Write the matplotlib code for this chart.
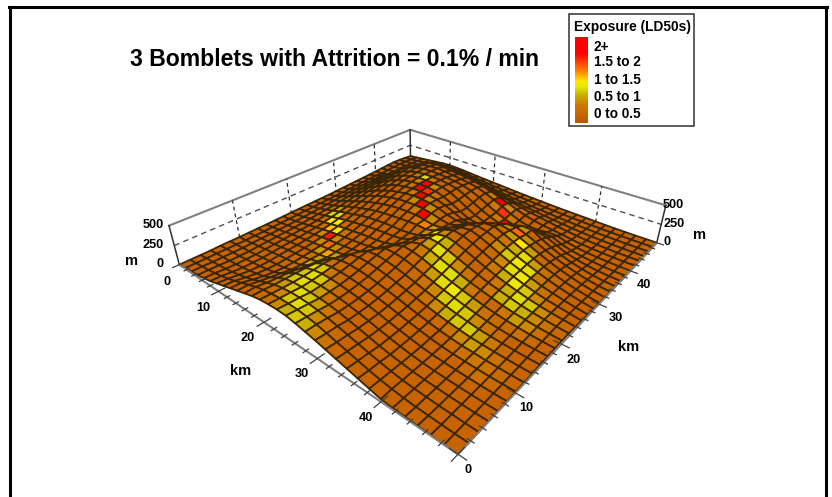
#!/usr/bin/env python3

import numpy as np
import matplotlib
matplotlib.use("Agg")
import matplotlib.pyplot as plt
from matplotlib.colors import LinearSegmentedColormap
from mpl_toolkits.mplot3d.art3d import Poly3DCollection

TITLE = "3 Bomblets with Attrition = 0.1% / min"
LEGEND_TITLE = "Exposure (LD50s)"
LEGEND_LABELS = ["2+", "1.5 to 2", "1 to 1.5", "0.5 to 1", "0 to 0.5"]
KM_TICKS = [10, 20, 30, 40]
Z_TICKS = [0, 250, 500]

# terrain height in m, one row per y km, one column per x km
HEIGHT = [
[0,10,20,30,50,70,100,130,160,190,220,250,270,280,285,280,260,235,210,180,150,120,90,60,30,20,15,10,5,0,0],
[0,10,20,30,45,65,90,120,155,190,225,250,265,275,275,270,255,235,205,175,145,115,85,60,40,25,15,10,5,2,0],
[0,10,15,25,35,50,70,95,125,165,205,240,260,270,270,262,248,228,202,172,142,112,85,60,40,28,20,12,8,3,2],
[0,10,15,20,30,40,55,75,100,145,195,240,258,262,258,250,238,218,192,165,135,105,80,60,42,30,22,15,10,6,5],
[5,10,15,20,30,40,50,65,85,125,185,240,262,268,265,255,240,220,195,168,138,110,85,62,46,34,26,18,13,9,8],
[5,10,15,20,30,40,52,62,75,105,170,238,270,280,278,265,248,228,202,175,145,118,92,68,50,38,30,22,16,12,10],
[5,10,20,30,40,50,62,70,80,100,150,230,280,295,292,280,265,242,215,188,158,130,104,78,58,44,34,26,20,17,15],
[8,14,24,34,46,58,70,78,88,105,135,205,280,310,312,302,285,262,235,205,172,142,115,88,68,52,42,32,26,21,18],
[10,16,28,40,54,66,78,88,98,105,120,160,240,320,335,330,312,288,258,225,192,160,130,104,82,62,50,40,32,26,22],
[12,20,32,46,60,74,88,100,110,118,130,150,200,290,350,355,340,315,282,248,212,180,150,120,96,74,60,50,40,33,30],
[15,24,36,52,68,84,100,115,125,132,142,155,175,240,320,375,370,350,315,278,240,205,172,140,112,88,70,57,46,39,35],
[18,28,42,58,76,95,115,130,142,152,162,172,185,210,280,350,395,380,350,308,268,228,192,160,130,104,84,68,54,45,38],
[22,32,48,70,90,110,130,150,165,178,190,198,205,220,250,320,380,410,385,340,298,255,215,182,150,120,96,78,62,50,40],
[25,38,56,80,105,130,155,175,195,210,225,235,245,250,265,310,375,425,415,375,330,285,240,200,168,138,108,86,68,54,42],
[28,42,64,90,120,150,178,205,230,248,260,268,272,270,280,300,350,410,435,405,360,312,262,218,180,146,114,90,70,54,38],
[30,46,72,100,135,170,205,235,262,285,300,310,320,325,330,320,350,410,450,430,385,335,280,235,195,155,120,92,70,50,30],
[32,50,80,115,155,195,235,270,300,325,345,355,360,360,340,320,330,380,430,445,405,355,300,250,205,165,125,95,68,45,25],
[35,55,90,130,175,220,265,305,340,365,385,395,395,390,370,340,320,350,410,440,415,370,315,262,215,170,130,95,65,40,20],
[40,60,98,140,190,240,290,330,370,395,415,425,420,410,385,345,315,325,370,420,425,378,325,270,220,172,130,92,60,35,15],
[45,65,105,150,205,260,315,360,400,420,435,435,425,405,370,320,270,255,300,365,390,365,320,268,215,165,122,85,52,28,10],
[50,70,110,160,220,280,340,385,420,440,450,445,430,395,340,280,225,205,235,300,345,350,305,255,200,150,108,72,42,20,8],
[55,75,115,170,235,300,360,405,435,450,455,450,440,405,345,280,220,180,165,200,270,310,305,235,175,125,85,55,30,12,5],
[60,80,120,180,250,320,380,420,445,455,455,450,435,410,360,300,240,190,150,135,155,200,220,195,140,90,58,35,18,8,3],
[65,85,125,190,265,340,395,430,450,455,450,440,425,405,370,320,260,200,150,115,105,125,150,145,95,60,38,22,10,4,1],
[70,80,100,140,200,280,380,430,445,450,440,425,410,395,370,330,280,230,170,120,90,85,100,100,65,40,24,14,6,2,0],
[78,85,100,130,180,260,360,415,430,425,410,400,385,365,340,305,265,225,180,140,110,90,75,60,40,25,16,9,4,1,0],
[85,92,105,130,170,230,310,365,375,365,345,325,300,275,250,225,200,175,150,125,105,85,65,48,32,20,12,6,2,0,0],
[90,95,105,125,155,200,250,290,295,285,265,240,215,195,175,155,135,118,102,88,72,58,45,32,22,14,8,4,1,0,0],
[88,92,102,118,140,170,200,220,220,210,190,170,150,135,120,105,92,80,68,58,48,38,30,22,16,10,6,3,1,0,0],
[80,88,98,110,125,145,160,165,160,150,135,120,108,98,88,78,68,58,50,42,35,28,22,16,12,8,4,2,1,0,0],
[70,80,92,102,115,125,130,125,118,108,98,90,82,74,66,58,50,44,38,32,26,22,18,14,10,6,3,1,0,0,0],
]

# exposure in tenths of LD50, same layout as HEIGHT
EXPOSURE = [
[2,2,2,2,2,2,2,2,2,2,2,3,4,6,8,9,8,6,4,3,2,2,2,2,2,2,2,2,2,2,2],
[2,2,2,2,2,2,2,2,2,2,3,4,6,9,10,9,6,4,3,2,2,2,2,2,2,2,2,2,2,2,2],
[2,2,2,2,2,2,2,2,2,3,5,7,9,10,9,7,5,3,2,2,2,2,2,2,2,2,2,2,2,2,2],
[2,2,2,2,2,2,2,2,3,4,7,9,10,9,7,4,3,2,2,2,2,2,2,2,2,2,2,2,2,2,2],
[2,2,2,2,2,2,2,2,3,4,7,9,10,9,6,3,2,2,2,2,2,2,2,2,2,2,2,2,2,2,2],
[2,2,2,2,2,2,2,3,4,6,9,10,9,5,3,2,2,2,2,2,2,2,2,2,2,2,3,4,3,2,2],
[2,2,2,2,2,2,2,3,5,8,10,8,4,3,2,2,2,2,2,2,2,2,2,2,3,4,5,4,3,2,2],
[2,2,2,2,2,2,2,2,4,7,11,6,3,2,2,2,2,2,2,2,2,2,3,4,6,7,6,4,3,2,2],
[2,2,2,2,2,2,2,3,7,14,7,3,2,2,2,2,2,2,2,3,4,6,8,9,9,7,5,3,2,2,2],
[2,2,2,2,2,2,2,6,16,6,2,2,2,2,2,2,2,2,3,4,6,9,10,9,6,4,3,2,2,2,2],
[2,2,2,2,2,2,6,19,6,2,2,2,2,2,2,2,2,3,4,7,10,11,9,7,4,3,3,4,3,2,2],
[2,2,2,2,2,4,13,12,4,2,2,2,2,2,2,2,3,5,8,10,10,8,5,3,3,5,7,6,4,3,2],
[2,2,2,2,3,12,12,3,2,2,2,2,2,2,2,3,4,7,10,9,6,4,3,5,8,9,8,6,4,3,2],
[2,2,2,3,10,10,3,2,2,2,2,2,2,2,2,3,6,11,8,5,3,2,3,5,8,10,9,6,4,3,2],
[2,2,2,3,7,3,2,2,2,2,2,2,2,2,3,6,12,6,3,2,2,3,5,8,11,9,6,4,3,2,2],
[2,2,2,2,2,2,2,2,2,2,2,2,2,5,15,7,3,2,2,2,2,3,6,10,11,7,4,3,2,2,2],
[2,2,2,2,2,2,2,2,2,2,2,2,5,20,6,2,2,2,2,2,3,6,9,11,10,5,3,2,2,2,2],
[2,2,2,2,2,2,2,2,2,2,2,6,23,6,2,2,2,2,2,2,3,5,8,10,7,4,3,2,2,2,2],
[2,2,2,2,2,2,2,2,2,2,5,25,6,2,2,2,2,2,2,2,3,7,12,7,3,2,2,2,2,2,2],
[2,2,2,2,2,2,2,2,2,4,20,18,4,2,2,2,2,2,2,2,6,16,6,2,2,2,2,2,2,2,2],
[2,2,2,2,2,2,2,2,2,6,20,6,2,2,2,2,2,2,2,6,20,6,2,2,2,2,2,2,2,2,2],
[2,2,2,2,2,2,2,2,5,10,5,2,2,2,2,2,2,2,6,23,6,2,2,2,2,2,2,2,2,2,2],
[2,2,2,2,2,2,2,2,3,2,2,2,2,2,2,2,2,5,20,5,2,2,2,2,2,2,2,2,2,2,2],
[2,2,2,2,2,2,2,2,2,2,2,2,2,2,2,2,5,18,5,2,2,2,2,2,2,2,2,2,2,2,2],
[2,2,2,2,2,2,2,2,2,2,2,2,2,2,2,5,22,6,2,2,2,2,2,2,2,2,2,2,2,2,2],
[2,2,2,2,2,2,2,2,2,2,2,2,2,2,5,24,5,2,2,2,2,2,2,2,2,2,2,2,2,2,2],
[2,2,2,2,2,2,2,2,2,2,2,2,2,5,22,4,2,2,2,2,2,2,2,2,2,2,2,2,2,2,2],
[2,2,2,2,2,2,2,2,2,2,2,2,4,12,3,2,2,2,2,2,2,2,2,2,2,2,2,2,2,2,2],
[2,2,2,2,2,2,2,2,2,2,2,2,2,2,2,2,2,2,2,2,2,2,2,2,2,2,2,2,2,2,2],
[2,2,2,2,2,2,2,2,2,2,2,2,2,2,2,2,2,2,2,2,2,2,2,2,2,2,2,2,2,2,2],
[2,2,2,2,2,2,2,2,2,2,2,2,2,2,2,2,2,2,2,2,2,2,2,2,2,2,2,2,2,2,2],
]

WIDTH, HEIGHT_PX = 832, 497
plt.rcParams['font.family'] = ['Liberation Sans', 'DejaVu Sans']

exposure_cmap = LinearSegmentedColormap.from_list("exposure", [
    (0.00, "#b45a00"), (0.08, "#c86400"), (0.20, "#cc7800"), (0.32, "#c8b000"),
    (0.42, "#e8e800"), (0.48, "#ffe800"), (0.60, "#ff8000"), (0.80, "#ff0000"),
    (1.00, "#ff0000")])


def label(fig, x, y, text, **kw):
    # pixel position, y from the top of the picture
    kw.setdefault("fontsize", 9.2)
    kw.setdefault("fontweight", "bold")
    kw.setdefault("ha", "center")
    kw.setdefault("va", "center")
    fig.text(x / WIDTH, 1 - y / HEIGHT_PX, text, color="black", **kw)


def draw_box(ax):
    grey = "#808080"
    ax.plot([0, 0, 50], [0, 50, 50], [500, 500, 500], color=grey, lw=1.5, zorder=1, clip_on=False)
    ax.plot([0, 0, 50], [0, 50, 50], [250, 250, 250], color="#505050", lw=1, ls=(0, (4, 3)), zorder=1, clip_on=False)
    ax.plot([0, 0], [0, 0], [0, 500], color="#303030", lw=1.1, zorder=1, clip_on=False)
    ax.plot([50, 50], [50, 50], [0, 500], color="#303030", lw=1.1, zorder=1, clip_on=False)
    ax.plot([0, 0], [50, 50], [0, 500], color="#303030", lw=1.1, zorder=1, clip_on=False)
    for km in KM_TICKS:
        ax.plot([0, 0], [km, km], [0, 500], color="#303030", lw=0.9, ls=(0, (3, 2.5)), zorder=1, clip_on=False)
        ax.plot([km, km], [50, 50], [0, 500], color="#303030", lw=0.9, ls=(0, (3, 2.5)), zorder=1, clip_on=False)


def draw_floor_axes(ax):
    grey = "#808080"
    ax.plot([0, 50, 50], [0, 0, 50], [0, 0, 0], color=grey, lw=1.5, zorder=3, clip_on=False)
    for km in range(0, 51, 2):
        size = 1.0 if km % 10 == 0 else 0.4
        ax.plot([km, km], [-size, size], [0, 0], color="#404040", lw=0.9, zorder=3, clip_on=False)
        ax.plot([50 - size, 50 + size], [km, km], [0, 0], color="#404040", lw=0.9, zorder=3, clip_on=False)


def main():
    z = np.array(HEIGHT, dtype=float)
    exposure = np.array(EXPOSURE, dtype=float) / 10
    km = np.linspace(0, 50, z.shape[1])

    fig = plt.figure(figsize=(WIDTH / 100, HEIGHT_PX / 100), dpi=100)
    ax = fig.add_axes([181.2 / WIDTH, 18.0 / HEIGHT_PX, 475.9 / WIDTH, 475.9 / HEIGHT_PX],
                      projection="3d")
    ax.set_proj_type("persp", focal_length=0.2184)
    ax.view_init(elev=30.334, azim=-49.923)
    ax.set_box_aspect((1, 1, 0.128))
    ax.set_xlim(0, 50)
    ax.set_ylim(0, 50)
    ax.set_zlim(0, 500)
    ax.set_axis_off()
    ax.patch.set_alpha(0)
    ax.computed_zorder = False

    draw_box(ax)

    polys = []
    colours = []
    for j in range(z.shape[0] - 1):
        for i in range(z.shape[1] - 1):
            polys.append([(km[i], km[j], z[j, i]), (km[i + 1], km[j], z[j, i + 1]),
                          (km[i + 1], km[j + 1], z[j + 1, i + 1]), (km[i], km[j + 1], z[j + 1, i])])
            colours.append(exposure_cmap(exposure[j, i] / 2.5))
    surface = Poly3DCollection(polys, facecolors=colours, edgecolors="#3a2604",
                               linewidths=1.3, zorder=2)
    surface.set_clip_on(False)
    ax.add_collection3d(surface)

    draw_floor_axes(ax)

    # frame of the picture, open at the bottom
    for xs, ys in [((10, 10), (497, 6.5)), ((9, 827), (6.5, 6.5)), ((826, 826), (6.5, 497))]:
        fig.add_artist(plt.Line2D([x / WIDTH for x in xs], [1 - y / HEIGHT_PX for y in ys],
                                  color="black", lw=2.2))

    label(fig, 335, 60, TITLE, fontsize=16.6)

    # legend box
    fig.add_artist(plt.Rectangle((569 / WIDTH, 1 - 126 / HEIGHT_PX), 125 / WIDTH, 112 / HEIGHT_PX,
                                 fc="white", ec="#303030", lw=1.1))
    label(fig, 632, 27, LEGEND_TITLE, fontsize=9.9)
    bar = fig.add_axes([575 / WIDTH, 1 - 123 / HEIGHT_PX, 13 / WIDTH, 86 / HEIGHT_PX])
    bar.imshow(np.linspace(1, 0, 86).reshape(-1, 1), cmap=exposure_cmap, aspect="auto", vmin=0, vmax=1)
    bar.set_axis_off()
    bar.set_zorder(5)
    for text, y in zip(LEGEND_LABELS, [47, 62, 80, 97, 114]):
        label(fig, 594, y, text, ha="left", fontsize=9.8)

    # tick labels of the two floor axes and of the height axis
    label(fig, 167, 282, "0")
    for text, pos in zip(KM_TICKS, [(203, 308), (248, 338), (302, 374), (366, 418)]):
        label(fig, pos[0], pos[1], str(text))
    label(fig, 241, 371, "km", fontsize=10.5)
    label(fig, 468, 470, "0")
    for text, pos in zip(KM_TICKS, [(526, 408), (574, 360), (616, 318), (644, 285)]):
        label(fig, pos[0], pos[1], str(text))
    label(fig, 629, 347, "km", fontsize=10.5)
    for text, y in zip(Z_TICKS, [264, 245, 225]):
        label(fig, 164, y, str(text), ha="right")
    for text, y in zip(Z_TICKS, [242, 224, 205]):
        label(fig, 663, y, str(text), ha="left")
    label(fig, 132, 261, "m", fontsize=10.5)
    label(fig, 700, 235, "m", fontsize=10.5)

    fig.savefig("out.png", dpi=100)


if __name__ == "__main__":
    main()
